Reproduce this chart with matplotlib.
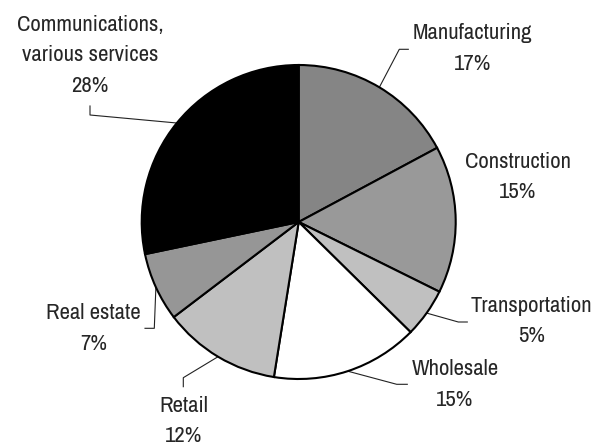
import numpy as np
import matplotlib.pyplot as plt

# sector shares (%), clockwise from 12 o'clock
sectors = ["Manufacturing", "Construction", "Transportation", "Wholesale",
           "Retail", "Real estate", "Communications,\nvarious services"]
shares = [17, 15, 5, 15, 12, 7, 28]
pct_labels = ["17%", "15%", "5%", "15%", "12%", "7%", "28%"]
fills = ["#858585", "#999999", "#c0c0c0", "#ffffff", "#c0c0c0", "#969696", "#000000"]

# layout, in image pixels (y down): label centre x, first-line y, leader path
W, H = 610, 448
lab_x = [472.7, 518, 531.7, 455, 184, 93.3, 90]
lab_y = [33, 161.7, 306, 369.3, 405.5, 313.3, 24.5]
leaders = [
    [(399.3, 49.3), (408.3, 49.3)],
    None,
    [(458.3, 322), (467.3, 322)],
    [(396.7, 384.3), (407.3, 384.3)],
    [(183.3, 377.7), (183.3, 386.7)],
    [(154.3, 328.3), (145, 328.3)],
    [(90, 115), (90, 106)],
]
cx, cy, r = 298.7, H - 222, 157
step = 30.5

fig = plt.figure(figsize=(W / 100, H / 100), dpi=100)
ax = fig.add_axes([0, 0, 1, 1])

wedges, _ = ax.pie(shares, colors=fills, startangle=90, counterclock=False,
                   center=(cx, cy), radius=r,
                   wedgeprops=dict(edgecolor="black", linewidth=1.5))

font = dict(family=["Archivo Narrow", "Liberation Sans", "DejaVu Sans"],
            fontsize=16.4, color="#262626", ha="center", va="center")

for i, w in enumerate(wedges):
    lines = sectors[i].split("\n") + [pct_labels[i]]
    for k, s in enumerate(lines):
        ax.text(lab_x[i], H - (lab_y[i] + k * step), s, **font)
    if leaders[i] is None:
        continue
    mid = np.deg2rad((w.theta1 + w.theta2) / 2)
    xs = [cx + r * np.cos(mid)] + [p[0] for p in leaders[i]]
    ys = [cy + r * np.sin(mid)] + [H - p[1] for p in leaders[i]]
    ax.plot(xs, ys, color="#222222", linewidth=0.8, zorder=0)

ax.set_xlim(0, W)
ax.set_ylim(0, H)
ax.set_aspect("equal")
ax.axis("off")

fig.savefig("out.png", dpi=100)
